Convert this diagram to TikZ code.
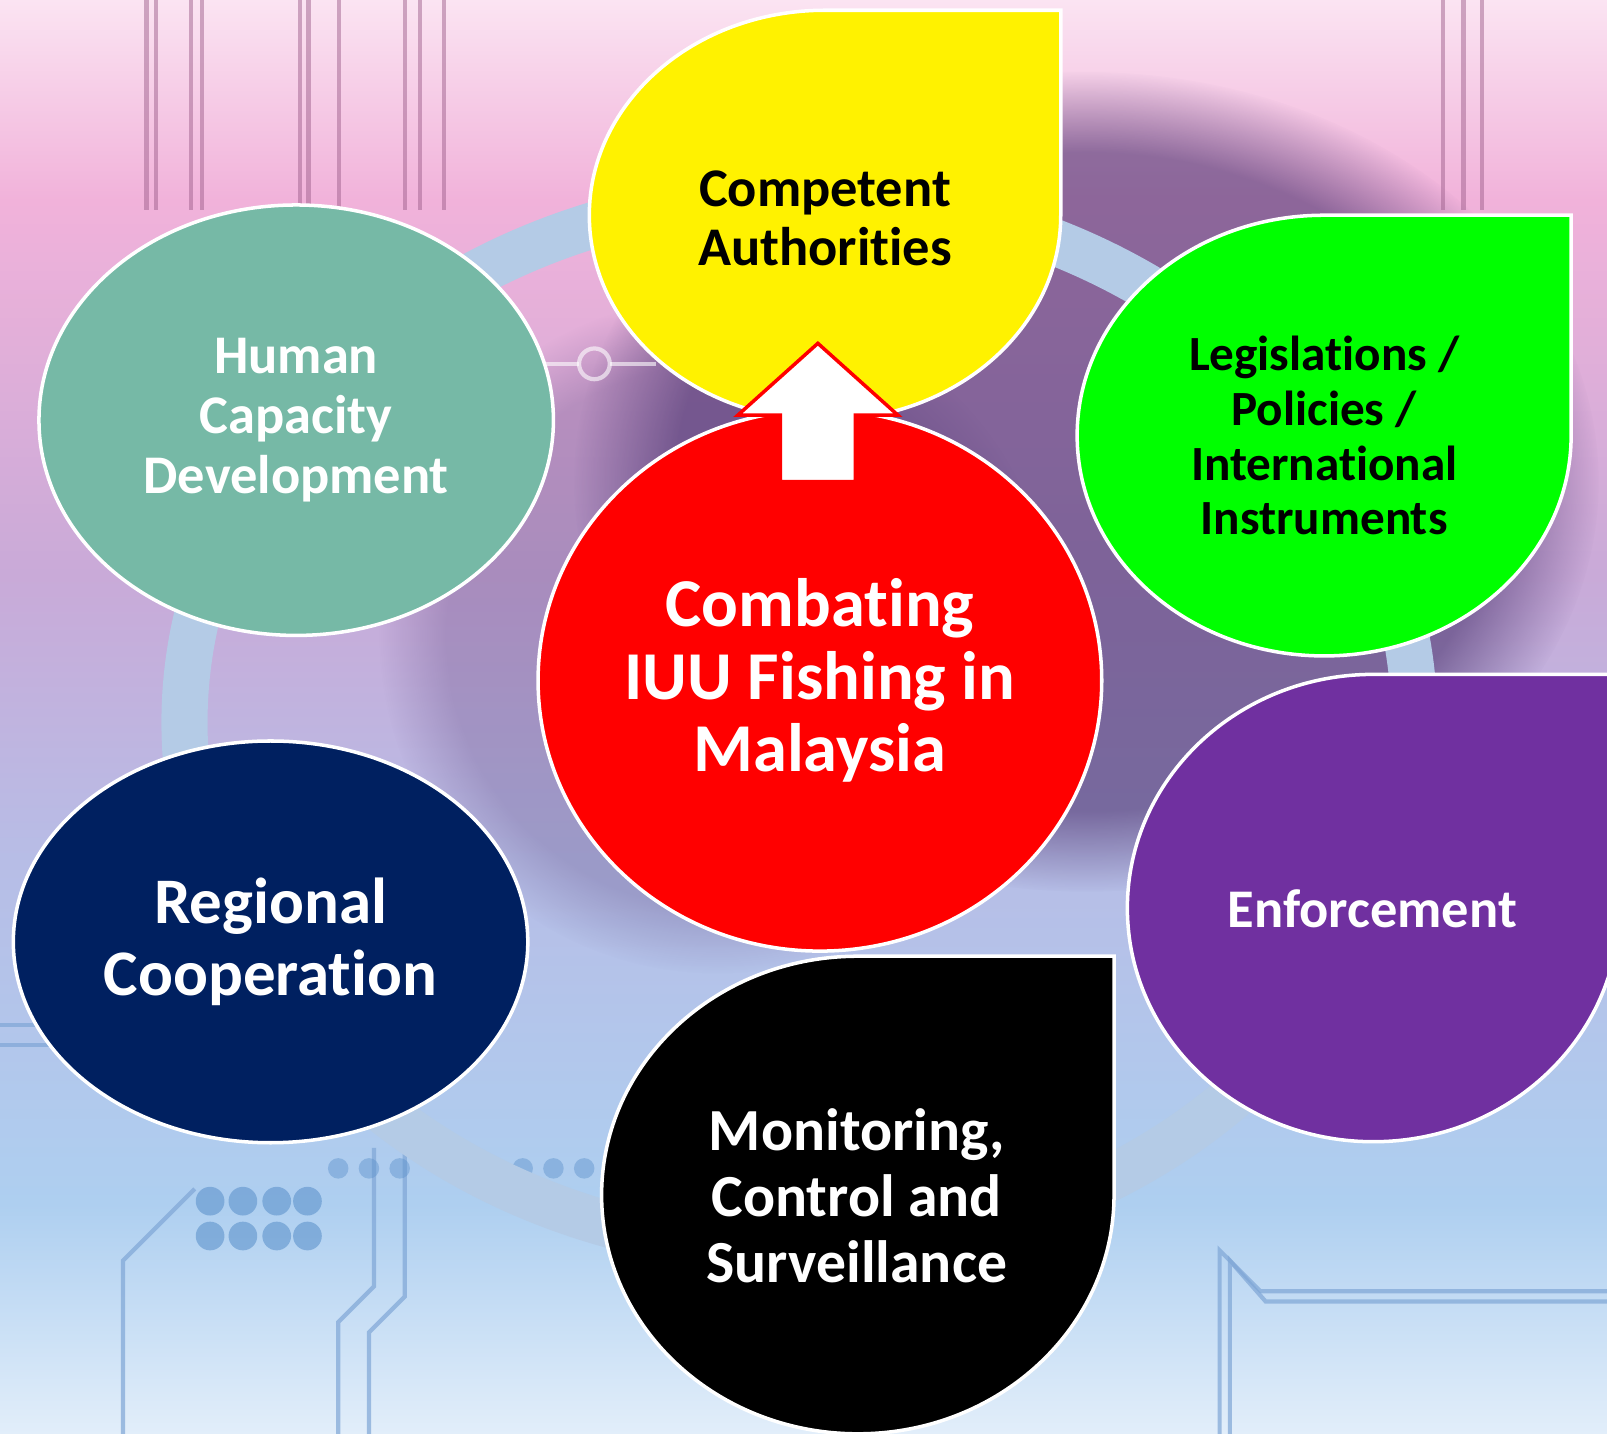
\documentclass[tikz,border=0pt]{standalone}
\usepackage{fontspec}
\setmainfont{Carlito}[Ligatures={NoCommon,NoContextual,NoRare}]
\usetikzlibrary{shapes.geometric,fadings}

\definecolor{tealc}{HTML}{76B9A6}
\definecolor{navyc}{HTML}{002060}
\definecolor{purplec}{HTML}{7030A0}
\definecolor{greenc}{HTML}{00FF00}
\definecolor{ringc}{HTML}{B4CBE6}
\definecolor{bgtop}{HTML}{FBE4F2}
\definecolor{bgpink}{HTML}{F1B2DA}
\definecolor{bglav}{HTML}{C9AAD8}
\definecolor{bglavb}{HTML}{B7BDE6}
\definecolor{bgblue}{HTML}{AECFF0}
\definecolor{bgbot}{HTML}{E2EEFA}
\definecolor{darkpur}{HTML}{4B3470}
\definecolor{circpink}{HTML}{A0628E}
\definecolor{circblue}{HTML}{7FA6D6}
\definecolor{dotblue}{HTML}{5E93CC}

\pgfdeclareverticalshading{bgshade}{100bp}{color(0bp)=(bgbot); color(25bp)=(bgbot); color(33bp)=(bgblue); color(45bp)=(bglavb); color(55bp)=(bglav); color(68bp)=(bgpink); color(75bp)=(bgtop); color(100bp)=(bgtop)}

\newlength\pxu
\setlength\pxu{0.010249cm}

\begin{document}
\begin{tikzpicture}[x=0.010249cm,y=-0.010249cm]
  \tikzset{
    bubble/.style={ellipse,draw=white,line width=1pt,inner sep=0pt,align=center},
    tear/.style={draw=white,line width=1pt},
    lbl/.style={align=center,inner sep=0pt},
    fsmall/.style={font=\bfseries\fontsize{14}{15.6}\selectfont},
    fmid/.style={font=\bfseries\fontsize{15.5}{17}\selectfont},
    fmcs/.style={font=\bfseries\fontsize{17}{18.8}\selectfont},
    fbig/.style={font=\bfseries\fontsize{18.5}{20.4}\selectfont},
    fhuge/.style={font=\bfseries\fontsize{19.5}{20.7}\selectfont},
    circuit/.style={circpink,opacity=0.5,line width=1.2pt},
    board/.style={circblue,opacity=0.7,line width=1.2pt}
  }

  \useasboundingbox (0,0) rectangle (1568,1399);
  \clip (0,0) rectangle (1568,1399);

  % background
  \shade[shading=bgshade] (0,0) rectangle (1568,1399);
  \fill[darkpur,opacity=0.6,path fading=circle with fuzzy edge 20 percent] (1060,470) ellipse[x radius=500, y radius=400];
  \fill[darkpur,opacity=0.25,path fading=circle with fuzzy edge 20 percent] (700,620) ellipse[x radius=330, y radius=330];
  \foreach \xx in {143,152,186,197,293,301,331,395,410,433,1408,1428,1446}
    \draw[circuit] (\xx,0) -- (\xx,205);
  \draw[circuit,white,opacity=0.6] (533,355) -- (565,355) (595,355) -- (640,355);
  \draw[white,opacity=0.6,line width=1.2pt] (580,355) circle[radius=15];
  \draw[board] (120,1399) -- (120,1230) -- (190,1160);
  \draw[board] (330,1399) -- (330,1290) -- (365,1255) -- (365,1120);
  \draw[board] (360,1399) -- (360,1300) -- (395,1265) -- (395,1120);
  \draw[board] (1190,1399) -- (1190,1220) -- (1230,1260) -- (1568,1260);
  \draw[board] (1200,1399) -- (1200,1230) -- (1235,1270) -- (1568,1270);
  \draw[board] (0,1000) -- (110,1000) (0,1020) -- (90,1020);
  \foreach \xx in {205,237,270,300}
    \foreach \yy in {1172,1206}
      \fill[dotblue,opacity=0.6] (\xx,\yy) circle[radius=14];
  \foreach \xx in {330,360,390,440,475,510,540,570}
    \fill[dotblue,opacity=0.45] (\xx,1140) circle[radius=10];

  % ring
  \draw[ringc,line width=45\pxu] (780,705) ellipse[x radius=600, y radius=515];

  % side bubbles
  \node[bubble,fill=tealc,text=white,fmid,minimum width=502\pxu,minimum height=420\pxu] (human) at (289,410) {Human\\Capacity\\Development};
  \node[bubble,fill=navyc,text=white,fbig,minimum width=502\pxu,minimum height=392\pxu] (regional) at (264,919) {Regional\\Cooperation};

  \filldraw[tear,fill=yellow] (1035,10) -- (805,10) arc[start angle=270, end angle=0, x radius=230, y radius=200] -- cycle;
  \node[lbl,text=black,fmid] (competent) at (805,213) {Competent\\Authorities};

  \filldraw[tear,fill=greenc] (1533,210) -- (1292,210) arc[start angle=270, end angle=0, x radius=241, y radius=215] -- cycle;
  \node[lbl,text=black,fsmall] (legis) at (1292,425) {Legislations /\\Policies /\\International\\Instruments};

  \filldraw[tear,fill=purplec] (1580,658) -- (1340,658) arc[start angle=270, end angle=0, x radius=240, y radius=228] -- cycle;
  \node[lbl,text=white,fmid] (enforce) at (1339,887) {Enforcement};

  \filldraw[tear,fill=black] (1087,933) -- (837,933) arc[start angle=270, end angle=0, x radius=250, y radius=233] -- cycle;
  \node[lbl,text=white,fmcs] (mcs) at (836,1167) {Monitoring,\\Control and\\Surveillance};

  % centre
  \node[bubble,fill=red,text=white,fhuge,minimum width=550\pxu,minimum height=528\pxu] (iuu) at (800,664) {Combating\\IUU Fishing in\\Malaysia};

  % block arrow to competent authorities
  \coordinate (tip) at (798,335);
  \filldraw[fill=white,draw=red,line width=1pt,line join=miter] (tip) -- ++(78,70) -- ++(-41.5,0) -- ++(0,65) -- ++(-73,0) -- ++(0,-65) -- ++(-41.5,0) -- cycle;
\end{tikzpicture}
\end{document}
